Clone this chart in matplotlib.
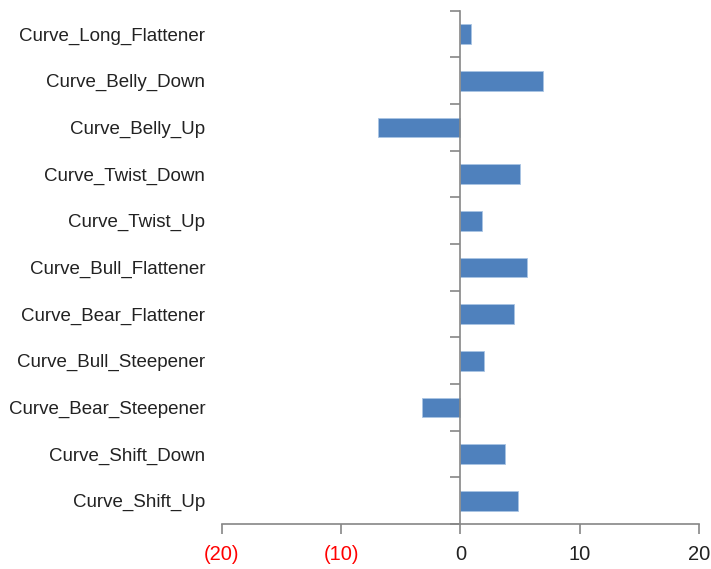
import matplotlib
matplotlib.use("Agg")
import matplotlib.pyplot as plt
import matplotlib.transforms as mtransforms
import numpy as np

# bottom to top
categories = [
    "Curve_Shift_Up",
    "Curve_Shift_Down",
    "Curve_Bear_Steepener",
    "Curve_Bull_Steepener",
    "Curve_Bear_Flattener",
    "Curve_Bull_Flattener",
    "Curve_Twist_Up",
    "Curve_Twist_Down",
    "Curve_Belly_Up",
    "Curve_Belly_Down",
    "Curve_Long_Flattener",
]
values = [4.8, 3.7, -3.2, 2.0, 4.5, 5.6, 1.8, 5.0, -6.9, 6.9, 0.9]
x_ticks = [-20, -10, 0, 10, 20]

BAR = "#4F81BD"
AXIS = "#868686"

plt.rcParams["font.family"] = ["Liberation Sans", "DejaVu Sans"]

fig = plt.figure(figsize=(7.11, 5.69), dpi=100)
ax = fig.add_axes([0.312, 0.079, 0.671, 0.902])

pos = np.arange(len(categories))
ax.barh(pos, values, height=0.42, color=BAR, edgecolor="#A9C4E4", linewidth=0.6, zorder=2)

ax.set_xlim(-20, 20)
ax.set_ylim(-0.5, len(categories) - 0.5)

for s in ["top", "right"]:
    ax.spines[s].set_visible(False)
ax.spines["left"].set_position(("data", 0))
ax.spines["left"].set_color(AXIS)
ax.spines["bottom"].set_color(AXIS)
ax.spines["left"].set_linewidth(1.2)
ax.spines["bottom"].set_linewidth(1.2)

# category boundary ticks on the zero line
ax.set_yticks(np.arange(len(categories) + 1) - 0.5)
ax.set_yticklabels([])
ax.tick_params(axis="y", direction="out", length=7, width=1.2, color=AXIS)

ax.set_xticks(x_ticks)
ax.set_xticklabels([f"({abs(t)})" if t < 0 else str(t) for t in x_ticks], fontsize=14.5)
for lab, t in zip(ax.get_xticklabels(), x_ticks):
    lab.set_color("#FF0000" if t < 0 else "#222222")
ax.tick_params(axis="x", direction="out", length=7, width=1.2, color=AXIS, pad=8)

# category names sit at the left edge, not on the zero spine
trans = mtransforms.blended_transform_factory(ax.transAxes, ax.transData)
trans = trans + mtransforms.ScaledTranslation(0, -2 / 100, fig.dpi_scale_trans)
for p, name in zip(pos, categories):
    ax.text(-0.035, p, name, transform=trans, ha="right", va="center",
            fontsize=13.5, color="#222222")

fig.savefig("out.png", dpi=100)
